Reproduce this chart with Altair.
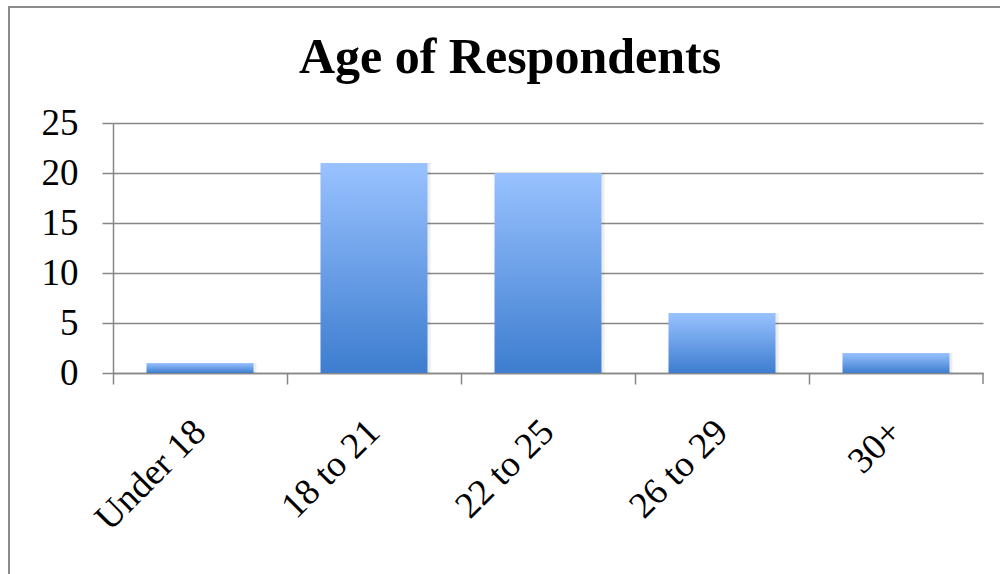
import altair as alt
import pandas as pd

# Respondent counts per age bracket
age_groups = ["Under 18", "18 to 21", "22 to 25", "26 to 29", "30+"]
respondents = [1, 21, 20, 6, 2]

df = pd.DataFrame({"age": age_groups, "count": respondents})

GRID = "#878787"
FONT = "Liberation Serif"

bar_fill = alt.Gradient(
    gradient="linear",
    x1=0, x2=0, y1=0, y2=1,
    stops=[
        alt.GradientStop(color="#99C2FF", offset=0),
        alt.GradientStop(color="#3D7DCF", offset=1),
    ],
)

x_enc = alt.X(
    "age:N",
    sort=age_groups,
    scale=alt.Scale(paddingInner=0, paddingOuter=0),
    axis=alt.Axis(
        title=None,
        labelAngle=-45,
        labelAlign="right",
        labelBaseline="middle",
        labelFont=FONT,
        labelFontSize=37,
        labelColor="black",
        labelPadding=42,
        bandPosition=0,
        tickSize=11,
        tickColor=GRID,
        tickWidth=1.5,
        domainColor=GRID,
        domainWidth=1.5,
    ),
)
y_enc = alt.Y(
    "count:Q",
    scale=alt.Scale(domain=[0, 25], nice=False),
    axis=alt.Axis(
        title=None,
        values=[0, 5, 10, 15, 20, 25],
        grid=True,
        gridColor=GRID,
        gridWidth=1.5,
        tickSize=11,
        tickColor=GRID,
        tickWidth=1.5,
        domainColor=GRID,
        domainWidth=1.5,
        labelFont=FONT,
        labelFontSize=37,
        labelColor="black",
        labelPadding=24,
    ),
)

# soft drop shadow to the right of each bar
shadow = alt.Chart(df).mark_bar(
    width=alt.RelativeBandSize(band=0.615), color="black", opacity=0.07, xOffset=3
).encode(x=x_enc, y=y_enc)

bars = alt.Chart(df).mark_bar(
    width=alt.RelativeBandSize(band=0.615), color=bar_fill
).encode(x=x_enc, y=y_enc)

one = alt.Data(values=[{}])

# closing tick at the right end of the category axis
end_tick = alt.Chart(one).mark_rule(color=GRID, strokeWidth=1.5).encode(
    x=alt.value(870), y=alt.value(250), y2=alt.value(261)
)

# frame around the whole chart
frame = alt.Chart(one).mark_rect(
    fill="transparent", stroke="#8C8C8C", strokeWidth=2
).encode(
    x=alt.value(-104), x2=alt.value(900), y=alt.value(-116), y2=alt.value(480)
)

chart = (
    alt.layer(shadow, bars, end_tick, frame)
    .properties(
        width=870,
        height=250,
        title=alt.TitleParams(
            "Age of Respondents",
            font=FONT,
            fontSize=50,
            fontWeight="bold",
            color="black",
            anchor="middle",
            frame="group",
            dx=-38,
            baseline="alphabetic",
            offset=-117,
        ),
        autosize=alt.AutoSizeParams(type="none"),
        padding={"left": 113, "top": 123, "right": 17, "bottom": 201},
        background="white",
    )
    .configure_view(stroke=None)
)

chart.save("out.html", embed_options={"renderer": "svg", "actions": False})
